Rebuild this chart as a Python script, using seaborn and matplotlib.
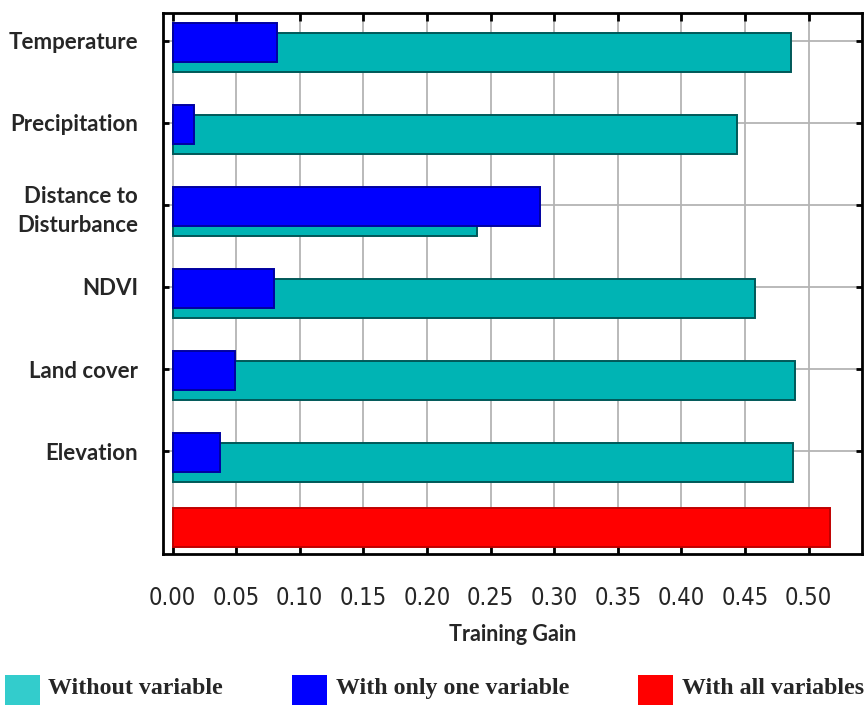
import numpy as np
import pandas as pd
import matplotlib
matplotlib.use("Agg")
import matplotlib.pyplot as plt
from matplotlib import font_manager as fm
from matplotlib.patches import Patch, Rectangle
from matplotlib.legend_handler import HandlerPatch
import seaborn as sns

# Jackknife of regularized training gain
variables = ["Temperature", "Precipitation", "Distance to\nDisturbance",
             "NDVI", "Land cover", "Elevation"]
without_variable = [0.486, 0.444, 0.239, 0.458, 0.489, 0.488]
with_only_variable = [0.082, 0.017, 0.289, 0.080, 0.049, 0.037]
with_all_variables = [0.517]
x_ticks = [0.00, 0.05, 0.10, 0.15, 0.20, 0.25, 0.30, 0.35, 0.40, 0.45, 0.50]
legend_labels = ["Without variable", "With only one variable", "With all variables"]

CYAN_BAR, CYAN_EDGE, CYAN_KEY = "#00B4B4", "#005858", "#33CCCC"
BLUE, BLUE_EDGE = "#0000FF", "#0000A0"
RED, RED_EDGE = "#FF0000", "#C00000"

sns.set_theme(style="white")
plt.rcParams["font.family"] = ["Lato", "DejaVu Sans"]


def narrow_font():
    """Pick a condensed face for the gain tick labels if one is installed."""
    wanted = [("Liberation Sans Narrow", None), ("Noto Sans", "extra-condensed"),
              ("Noto Sans", "condensed"), ("DejaVu Sans", "condensed")]
    for name, stretch in wanted:
        for entry in fm.fontManager.ttflist:
            if entry.name == name and (stretch is None or str(entry.stretch) == stretch):
                return dict(family=name, fontstretch=stretch or "normal", fontsize=17)
    return dict(family="Liberation Sans", fontsize=15)


W, H = 866, 705
fig = plt.figure(figsize=(W / 100, H / 100), dpi=100)
ax = fig.add_axes([163 / W, 1 - 554 / H, (862 - 163) / W, (554 - 12.7) / H])

slots = np.arange(len(variables))
df_without = pd.DataFrame({"gain": without_variable, "pos": slots + 0.14})
df_only = pd.DataFrame({"gain": with_only_variable, "pos": slots + 0.02})
df_all = pd.DataFrame({"gain": with_all_variables, "pos": [len(variables) - 0.07]})

bar_kw = dict(x="gain", y="pos", orient="y", native_scale=True, width=0.475,
              saturation=1, errorbar=None, linewidth=1.4, ax=ax)
sns.barplot(data=df_without, color=CYAN_BAR, edgecolor=CYAN_EDGE, **bar_kw)
sns.barplot(data=df_only, color=BLUE, edgecolor=BLUE_EDGE, **bar_kw)
sns.barplot(data=df_all, color=RED, edgecolor=RED_EDGE, **bar_kw)

ax.set_xlim(-0.0075, 0.542)
ax.set_ylim(6.256, -0.345)

ax.set_xticks(x_ticks)
ax.set_xticklabels([f"{t:.2f}" for t in x_ticks], **narrow_font())
ax.set_yticks(slots)
ax.set_yticklabels(variables, fontweight="bold", fontsize=16)
for lab in ax.get_yticklabels():
    lab.set_linespacing(1.5)
    lab.set_horizontalalignment("right")

ax.grid(True, color="#b4b4b4", linewidth=1.3)
ax.set_axisbelow(True)

ax.tick_params(axis="x", which="both", direction="in", top=True, bottom=True,
               length=6, width=2, color="black", pad=23)
ax.tick_params(axis="y", which="both", direction="in", left=True, right=True,
               length=4, width=2, color="black", pad=18)
for s in ax.spines.values():
    s.set_color("black")
    s.set_linewidth(2)

ax.set_ylabel("")
ax.set_xlabel("Training Gain", fontweight="bold", fontsize=15.5, labelpad=10)


def tall_key(legend, orig_handle, xdescent, ydescent, width, height, fontsize):
    # colour key that hangs below the text baseline
    drop = 0.5 * fontsize
    return Rectangle((-xdescent, -ydescent - drop), width, height + drop)


handles = [Patch(facecolor=CYAN_KEY, edgecolor="none"),
           Patch(facecolor=BLUE, edgecolor="none"),
           Patch(facecolor=RED, edgecolor="none")]
fig.legend(handles=handles, labels=legend_labels, loc="lower left",
           bbox_to_anchor=(0.006, 0.009), ncol=3, frameon=False,
           prop=dict(family=["Liberation Serif", "DejaVu Serif"], weight="bold", size=17.2),
           handler_map={Patch: HandlerPatch(patch_func=tall_key)},
           handlelength=1.46, handleheight=0.95, handletextpad=0.35,
           columnspacing=2.9, borderpad=0, borderaxespad=0)

fig.savefig("out.png", dpi=100)
